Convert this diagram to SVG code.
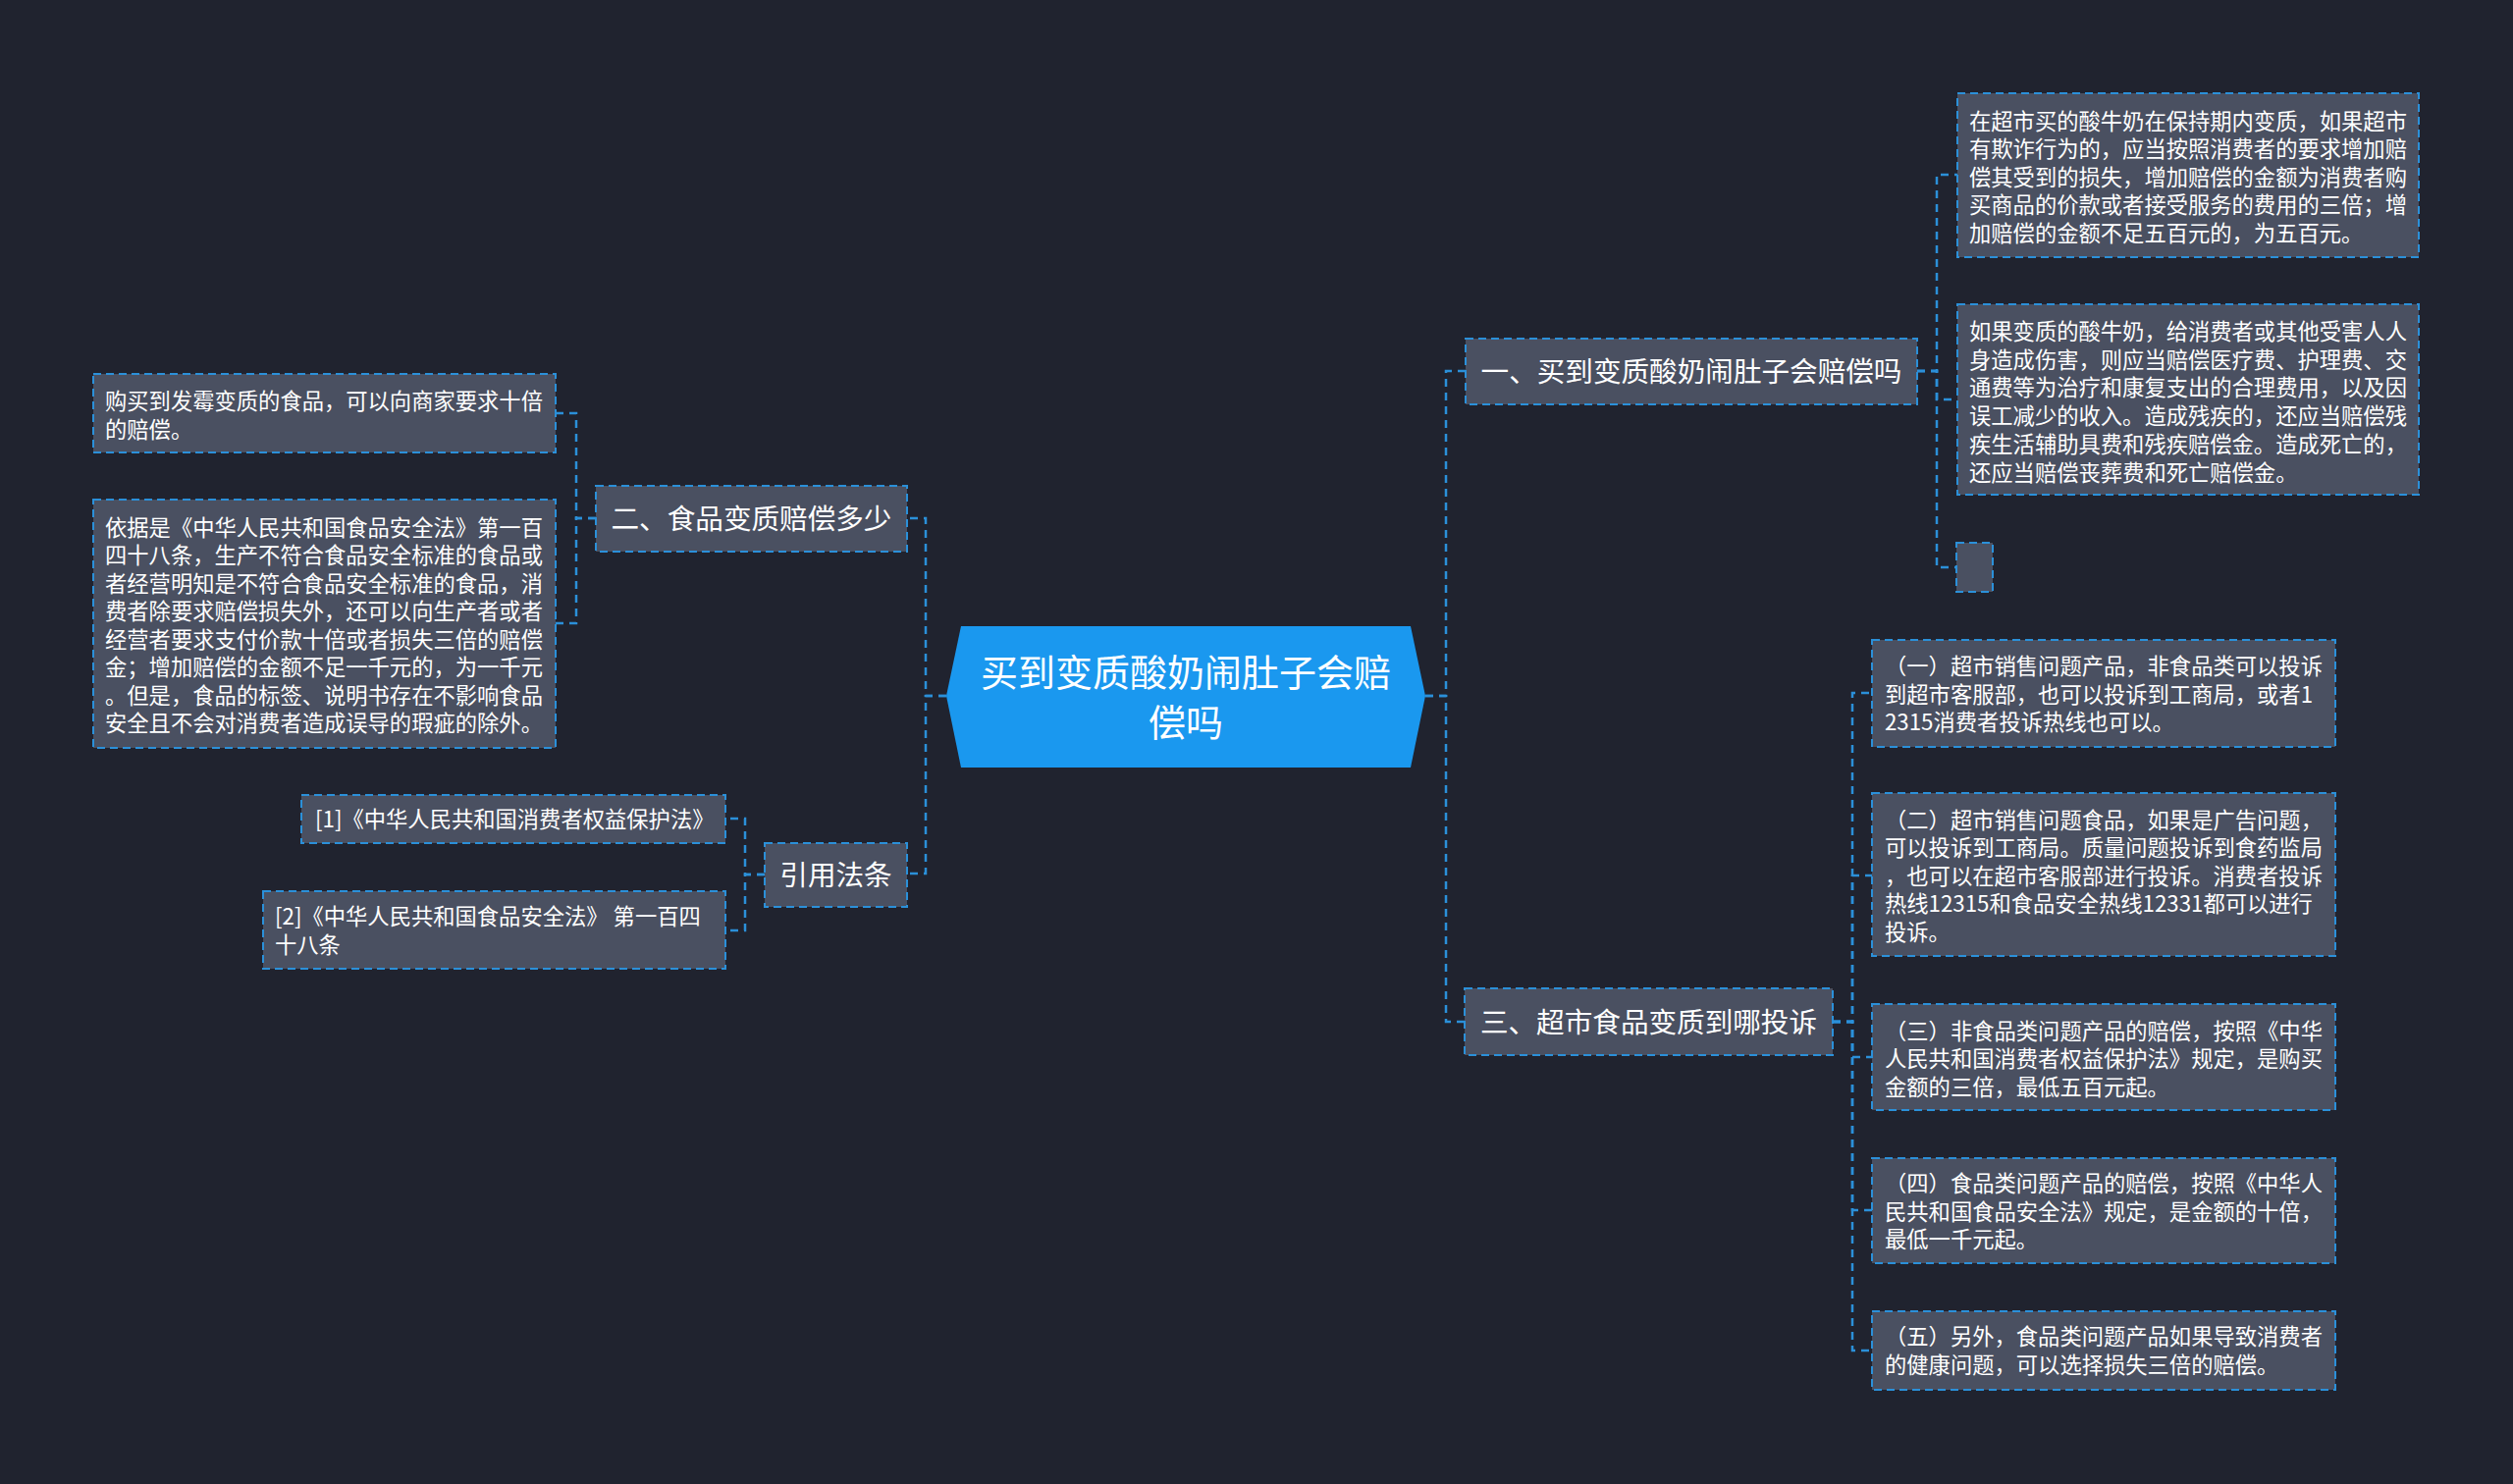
<svg xmlns="http://www.w3.org/2000/svg" width="2560" height="1512" viewBox="0 0 2560 1512">
<style>
.bg{fill:#20232f}
.box{fill:#4a5061;stroke:#2b90d9;stroke-width:2;stroke-dasharray:8 5}
.con{fill:none;stroke:#2b90d9;stroke-width:2.5;stroke-dasharray:8 6}
text{font-family:"Microsoft YaHei","Noto Sans CJK SC","Noto Sans",sans-serif;fill:#ffffff}
.t22{font-size:22.3px}
.t28{font-size:28.6px}
.t37{font-size:38px}
.mid{text-anchor:middle}
</style>
<rect class="bg" x="0" y="0" width="2560" height="1512"/>
<g id="connectors">
<path class="con" d="M964 709H943V528H924"/>
<path class="con" d="M964 709H943V890H924"/>
<path class="con" d="M607 528H587V421H566"/>
<path class="con" d="M607 528H587V635H566"/>
<path class="con" d="M779 891H759V834H739"/>
<path class="con" d="M779 891H759V948H739"/>
<path class="con" d="M1452 709H1473V378H1493"/>
<path class="con" d="M1452 709H1473V1041H1492"/>
<path class="con" d="M1953 378H1973V178H1994"/>
<path class="con" d="M1953 378H1973V407H1994"/>
<path class="con" d="M1953 378H1973V578H1993"/>
<path class="con" d="M1867 1041H1887V706H1907"/>
<path class="con" d="M1867 1041H1887V892H1907"/>
<path class="con" d="M1867 1041H1887V1077H1907"/>
<path class="con" d="M1867 1041H1887V1233H1907"/>
<path class="con" d="M1867 1041H1887V1376H1907"/>
</g>
<g id="root">
<polygon points="979,638 1437,638 1452,709 1437,782 979,782 964,709" fill="#1a98ef"/>
<text class="t37 mid" x="1208" y="699">买到变质酸奶闹肚子会赔</text>
<text class="t37 mid" x="1208" y="750">偿吗</text>
</g>
<g id="n1">
<rect class="box" x="1493" y="345" width="460" height="67"/>
<text class="t28 mid" x="1723" y="389">一、买到变质酸奶闹肚子会赔偿吗</text>
</g>
<g id="n1a">
<rect class="box" x="1994" y="95" width="470" height="167"/>
<text class="t22" x="2006" y="131.5">在超市买的酸牛奶在保持期内变质，如果超市</text>
<text class="t22" x="2006" y="160">有欺诈行为的，应当按照消费者的要求增加赔</text>
<text class="t22" x="2006" y="188.5">偿其受到的损失，增加赔偿的金额为消费者购</text>
<text class="t22" x="2006" y="217">买商品的价款或者接受服务的费用的三倍；增</text>
<text class="t22" x="2006" y="245.5">加赔偿的金额不足五百元的，为五百元。</text>
</g>
<g id="n1b">
<rect class="box" x="1994" y="310" width="470" height="194"/>
<text class="t22" x="2006" y="346">如果变质的酸牛奶，给消费者或其他受害人人</text>
<text class="t22" x="2006" y="374.7">身造成伤害，则应当赔偿医疗费、护理费、交</text>
<text class="t22" x="2006" y="403.4">通费等为治疗和康复支出的合理费用，以及因</text>
<text class="t22" x="2006" y="432.1">误工减少的收入。造成残疾的，还应当赔偿残</text>
<text class="t22" x="2006" y="460.8">疾生活辅助具费和残疾赔偿金。造成死亡的，</text>
<text class="t22" x="2006" y="489.5">还应当赔偿丧葬费和死亡赔偿金。</text>
</g>
<g id="n1c">
<rect class="box" x="1993" y="553" width="37" height="50"/>
</g>
<g id="n3">
<rect class="box" x="1492" y="1007" width="375" height="68"/>
<text class="t28 mid" x="1679.5" y="1051.5">三、超市食品变质到哪投诉</text>
</g>
<g id="n3a">
<rect class="box" x="1907" y="652" width="472" height="109"/>
<text class="t22" x="1920" y="687">（一）超市销售问题产品，非食品类可以投诉</text>
<text class="t22" x="1920" y="715.5">到超市客服部，也可以投诉到工商局，或者1</text>
<text class="t22" x="1920" y="744">2315消费者投诉热线也可以。</text>
</g>
<g id="n3b">
<rect class="box" x="1907" y="808" width="472" height="166"/>
<text class="t22" x="1920" y="843.5">（二）超市销售问题食品，如果是广告问题，</text>
<text class="t22" x="1920" y="872">可以投诉到工商局。质量问题投诉到食药监局</text>
<text class="t22" x="1920" y="900.5">，也可以在超市客服部进行投诉。消费者投诉</text>
<text class="t22" x="1920" y="929">热线12315和食品安全热线12331都可以进行</text>
<text class="t22" x="1920" y="957.5">投诉。</text>
</g>
<g id="n3c">
<rect class="box" x="1907" y="1023" width="472" height="108"/>
<text class="t22" x="1920" y="1058.5">（三）非食品类问题产品的赔偿，按照《中华</text>
<text class="t22" x="1920" y="1087">人民共和国消费者权益保护法》规定，是购买</text>
<text class="t22" x="1920" y="1115.5">金额的三倍，最低五百元起。</text>
</g>
<g id="n3d">
<rect class="box" x="1907" y="1180" width="472" height="107"/>
<text class="t22" x="1920" y="1214">（四）食品类问题产品的赔偿，按照《中华人</text>
<text class="t22" x="1920" y="1242.5">民共和国食品安全法》规定，是金额的十倍，</text>
<text class="t22" x="1920" y="1271">最低一千元起。</text>
</g>
<g id="n3e">
<rect class="box" x="1907" y="1336" width="472" height="80"/>
<text class="t22" x="1920" y="1370">（五）另外，食品类问题产品如果导致消费者</text>
<text class="t22" x="1920" y="1398.5">的健康问题，可以选择损失三倍的赔偿。</text>
</g>
<g id="n2">
<rect class="box" x="607" y="495" width="317" height="67"/>
<text class="t28 mid" x="765.5" y="539">二、食品变质赔偿多少</text>
</g>
<g id="n2a">
<rect class="box" x="95" y="381" width="471" height="80"/>
<text class="t22" x="107" y="417">购买到发霉变质的食品，可以向商家要求十倍</text>
<text class="t22" x="107" y="445.5">的赔偿。</text>
</g>
<g id="n2b">
<rect class="box" x="95" y="509" width="471" height="253"/>
<text class="t22" x="107" y="545.5">依据是《中华人民共和国食品安全法》第一百</text>
<text class="t22" x="107" y="574">四十八条，生产不符合食品安全标准的食品或</text>
<text class="t22" x="107" y="602.5">者经营明知是不符合食品安全标准的食品，消</text>
<text class="t22" x="107" y="631">费者除要求赔偿损失外，还可以向生产者或者</text>
<text class="t22" x="107" y="659.5">经营者要求支付价款十倍或者损失三倍的赔偿</text>
<text class="t22" x="107" y="688">金；增加赔偿的金额不足一千元的，为一千元</text>
<text class="t22" x="107" y="716.5">。但是，食品的标签、说明书存在不影响食品</text>
<text class="t22" x="107" y="745">安全且不会对消费者造成误导的瑕疵的除外。</text>
</g>
<g id="n4">
<rect class="box" x="779" y="859" width="145" height="65"/>
<text class="t28 mid" x="851.5" y="902">引用法条</text>
</g>
<g id="n4a">
<rect class="box" x="307" y="810" width="432" height="49"/>
<text class="t22" x="321" y="843">[1]《中华人民共和国消费者权益保护法》</text>
</g>
<g id="n4b">
<rect class="box" x="268" y="908" width="471" height="79"/>
<text class="t22" x="280" y="942">[2]《中华人民共和国食品安全法》 第一百四</text>
<text class="t22" x="280" y="970.5">十八条</text>
</g>
</svg>
